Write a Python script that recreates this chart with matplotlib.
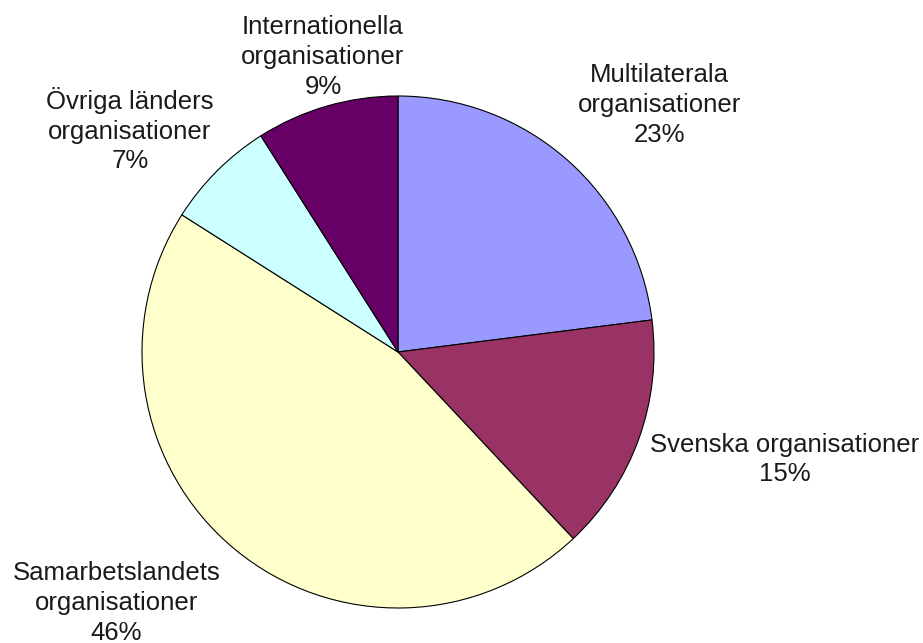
"""Pie chart: fördelning per typ av organisation."""

import matplotlib.pyplot as plt

plt.rcParams['font.family'] = ['Liberation Sans', 'DejaVu Sans']

# data, clockwise from 12 o'clock
names = ['Multilaterala\norganisationer', 'Svenska organisationer',
         'Samarbetslandets\norganisationer', 'Övriga länders\norganisationer',
         'Internationella\norganisationer']
shares = [23, 15, 46, 7, 9]
colors = ['#9999FF', '#993366', '#FFFFCC', '#CCFFFF', '#660066']

# label centres in axes data units (pie radius = 1)
label_xy = [(1.02, 0.965), (1.51, -0.42), (-1.10, -0.98),
            (-1.047, 0.867), (-0.293, 1.152)]

fig = plt.figure(figsize=(9.23, 6.43), dpi=100)
cx, cy, r = 398, 643 - 352, 256  # pie centre / radius in pixels
ax = fig.add_axes([(cx - r) / 923, (cy - r) / 643, 2 * r / 923, 2 * r / 643])

ax.pie(shares, colors=colors, startangle=90, counterclock=False,
       wedgeprops={'edgecolor': 'black', 'linewidth': 0.8})
ax.set_xlim(-1, 1)
ax.set_ylim(-1, 1)
ax.set_aspect('equal')
ax.axis('off')

for name, val, (x, y) in zip(names, shares, label_xy):
    ax.text(x, y, f'{name}\n{val}%', ha='center', va='center',
            fontsize=18.5, color='#1a1a1a', linespacing=1.3, clip_on=False)

fig.savefig('out.png', dpi=100)
